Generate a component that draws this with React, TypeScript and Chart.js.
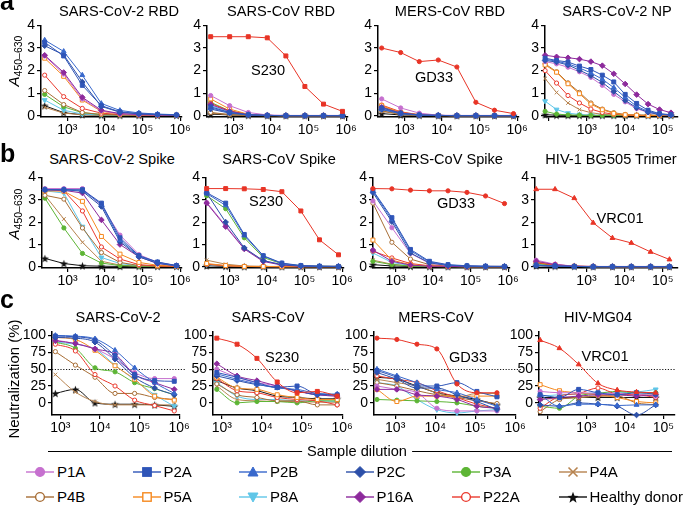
import React, { useEffect, useRef } from 'react';
import { Chart, registerables } from 'chart.js';
Chart.register(...registerables);

const FONT = '"Liberation Sans", Arial, Helvetica, sans-serif';

// ---------- series ----------
const SERIES = ['P1A', 'P2A', 'P2B', 'P2C', 'P3A', 'P4A', 'P4B', 'P5A', 'P8A', 'P16A', 'P22A', 'Healthy donor'];
const COLORS = ['#c670cf', '#2f55b8', '#3868cc', '#2c4fa8', '#5db535', '#b7834f', '#a76d35', '#f5891f', '#5fc6e8', '#8d2a9c', '#ea3a2e', '#111111'];
const MARKERS = ['circle', 'rect', 'triangle', 'rectRot', 'circle', 'crossRot', 'circle', 'rect', 'triangleDown', 'rectRot', 'circle', 'star'];
const OPEN = [false, false, false, false, false, false, true, true, false, false, true, false];
const MAB_COLOR = '#e83426';

// ---------- dilutions ----------
const DIL_ELISA = [250, 800, 2500, 8000, 25000, 80000, 250000, 800000];
const DIL_NP = [80, 160, 320, 640, 1280, 2560, 5120, 10240, 20480, 40960, 81920, 163840];
const DIL_TRIMER = [48, 150, 480, 1500, 4800, 15000, 48000, 150000];
const DIL_NEUT = [750, 2400, 7500, 24000, 75000, 240000, 750000];
const DIL_NEUT_MERS = [350, 1100, 3500, 11000, 35000, 110000, 350000];
const DIL_NEUT_HIV = [63, 200, 630, 2000, 6300, 20000, 63000];

// ---------- tick labels ----------
const ELISA_YTICKS = [0, 1, 2, 3, 4];
const NEUT_YTICKS = [0, 25, 50, 75, 100];
const XTICKS_FULL = [1e3, 1e4, 1e5, 1e6];
const XTICKS_SHORT = [1e2, 1e3, 1e4, 1e5];
const XLABELED = [1e3, 1e4, 1e5, 1e6];

// ---------- monoclonal controls ----------
const S230_RBD = [3.5, 3.5, 3.5, 3.45, 2.65, 1.3, 0.52, 0.2];
const GD33_RBD = [3.0, 2.8, 2.4, 2.47, 2.16, 0.6, 0.25, 0.1];
const S230_SPIKE = [3.5, 3.5, 3.49, 3.46, 3.36, 2.5, 1.21, 0.54];
const GD33_SPIKE = [3.5, 3.49, 3.43, 3.4, 3.4, 3.33, 3.17, 2.83];
const VRC01_TRIMER = [3.47, 3.47, 3.07, 1.97, 1.29, 1.07, 0.67, 0.33];
const S230_NEUT = [96, 87, 66, 31, 15, 17, 10];
const GD33_NEUT = [96, 94, 87, 80, 28, 15, 15];
const VRC01_NEUT = [93, 81, 57, 29, 19, 16, 15];

// ---------- panel a ----------
const A_SARS2_RBD = [
  [2.65, 1.85, 0.75, 0.22, 0.09, 0.05, 0.04, 0.03],
  [3.25, 2.65, 1.35, 0.45, 0.18, 0.1, 0.06, 0.04],
  [3.35, 2.85, 1.8, 0.55, 0.24, 0.13, 0.08, 0.05],
  [3.1, 2.7, 1.5, 0.42, 0.16, 0.09, 0.06, 0.04],
  [0.95, 0.4, 0.14, 0.06, 0.04, 0.03, 0.02, 0.02],
  [0.38, 0.12, 0.05, 0.03, 0.02, 0.02, 0.02, 0.02],
  [1.12, 0.5, 0.15, 0.06, 0.04, 0.03, 0.02, 0.02],
  [2.55, 1.75, 0.7, 0.2, 0.08, 0.05, 0.04, 0.03],
  [0.7, 0.25, 0.08, 0.04, 0.03, 0.02, 0.02, 0.02],
  [2.68, 1.92, 0.82, 0.25, 0.1, 0.06, 0.04, 0.03],
  [1.8, 0.85, 0.33, 0.12, 0.06, 0.04, 0.03, 0.02],
  [0.45, 0.14, 0.05, 0.03, 0.02, 0.02, 0.02, 0.02],
];
const A_SARS_RBD = [
  [0.9, 0.45, 0.15, 0.04, 0.02, 0.02, 0.02, 0.02],
  [0.4, 0.15, 0.05, 0.02, 0.01, 0.01, 0.01, 0.01],
  [0.35, 0.14, 0.05, 0.02, 0.01, 0.01, 0.01, 0.01],
  [0.3, 0.12, 0.04, 0.02, 0.01, 0.01, 0.01, 0.01],
  [0.6, 0.22, 0.06, 0.02, 0.01, 0.01, 0.01, 0.01],
  [0.12, 0.05, 0.02, 0.01, 0.01, 0.01, 0.01, 0.01],
  [0.15, 0.06, 0.02, 0.01, 0.01, 0.01, 0.01, 0.01],
  [0.75, 0.3, 0.07, 0.02, 0.01, 0.01, 0.01, 0.01],
  [0.45, 0.18, 0.05, 0.02, 0.01, 0.01, 0.01, 0.01],
  [0.5, 0.2, 0.05, 0.02, 0.01, 0.01, 0.01, 0.01],
  [0.55, 0.22, 0.06, 0.02, 0.01, 0.01, 0.01, 0.01],
  [0.08, 0.04, 0.02, 0.01, 0.01, 0.01, 0.01, 0.01],
];
const A_MERS_RBD = [
  [0.75, 0.35, 0.12, 0.03, 0.02, 0.02, 0.02, 0.02],
  [0.35, 0.12, 0.04, 0.02, 0.01, 0.01, 0.01, 0.01],
  [0.3, 0.1, 0.04, 0.02, 0.01, 0.01, 0.01, 0.01],
  [0.28, 0.1, 0.03, 0.02, 0.01, 0.01, 0.01, 0.01],
  [0.4, 0.15, 0.05, 0.02, 0.01, 0.01, 0.01, 0.01],
  [0.2, 0.06, 0.02, 0.01, 0.01, 0.01, 0.01, 0.01],
  [0.22, 0.08, 0.03, 0.01, 0.01, 0.01, 0.01, 0.01],
  [0.45, 0.15, 0.04, 0.02, 0.01, 0.01, 0.01, 0.01],
  [0.3, 0.1, 0.03, 0.02, 0.01, 0.01, 0.01, 0.01],
  [0.38, 0.13, 0.04, 0.02, 0.01, 0.01, 0.01, 0.01],
  [0.48, 0.18, 0.05, 0.02, 0.01, 0.01, 0.01, 0.01],
  [0.1, 0.04, 0.02, 0.01, 0.01, 0.01, 0.01, 0.01],
];
const A_SARS2_NP = [
  [2.4, 2.3, 2.15, 1.95, 1.7, 1.35, 0.95, 0.62, 0.32, 0.15, 0.07, 0.04],
  [2.55, 2.45, 2.38, 2.2, 2.05, 1.8, 1.5, 0.95, 0.55, 0.25, 0.1, 0.05],
  [2.5, 2.42, 2.3, 2.12, 1.9, 1.62, 1.25, 0.82, 0.42, 0.2, 0.08, 0.04],
  [2.45, 2.38, 2.25, 2.02, 1.78, 1.48, 1.08, 0.68, 0.36, 0.16, 0.06, 0.03],
  [0.2, 0.08, 0.04, 0.03, 0.02, 0.02, 0.02, 0.02, 0.02, 0.02, 0.02, 0.02],
  [1.65, 1.03, 0.57, 0.28, 0.14, 0.07, 0.04, 0.03, 0.02, 0.02, 0.02, 0.02],
  [2.3, 1.95, 1.46, 1.04, 0.57, 0.3, 0.14, 0.06, 0.03, 0.02, 0.02, 0.02],
  [2.25, 1.93, 1.42, 0.98, 0.52, 0.27, 0.11, 0.05, 0.03, 0.02, 0.02, 0.02],
  [0.65, 0.28, 0.12, 0.06, 0.03, 0.02, 0.02, 0.02, 0.02, 0.02, 0.02, 0.02],
  [2.68, 2.61, 2.57, 2.51, 2.4, 2.22, 1.86, 1.41, 0.94, 0.52, 0.28, 0.14],
  [2.0, 1.45, 0.9, 0.57, 0.3, 0.15, 0.07, 0.03, 0.02, 0.02, 0.02, 0.02],
  [0.05, 0.03, 0.02, 0.02, 0.02, 0.02, 0.02, 0.02, 0.02, 0.02, 0.02, 0.02],
];

// ---------- panel b ----------
const B_SARS2_SPIKE = [
  [3.5, 3.5, 3.5, 2.75, 1.42, 0.55, 0.2, 0.06],
  [3.45, 3.45, 3.45, 2.85, 1.3, 0.5, 0.22, 0.06],
  [3.45, 3.45, 3.42, 2.8, 1.2, 0.48, 0.2, 0.05],
  [3.45, 3.45, 3.38, 2.7, 1.12, 0.45, 0.16, 0.05],
  [3.07, 1.74, 0.6, 0.17, 0.06, 0.03, 0.02, 0.02],
  [3.2, 2.14, 1.1, 0.25, 0.08, 0.03, 0.02, 0.02],
  [3.2, 3.03, 1.74, 0.64, 0.2, 0.06, 0.03, 0.02],
  [3.4, 3.38, 2.93, 1.36, 0.57, 0.2, 0.07, 0.03],
  [3.4, 3.3, 1.8, 0.42, 0.15, 0.05, 0.03, 0.02],
  [3.45, 3.42, 3.3, 2.1, 1.0, 0.45, 0.15, 0.05],
  [3.45, 3.4, 2.5, 0.89, 0.35, 0.1, 0.04, 0.02],
  [0.38, 0.15, 0.05, 0.03, 0.02, 0.02, 0.02, 0.02],
];
const B_SARS_SPIKE = [
  [2.88, 1.85, 0.82, 0.28, 0.1, 0.04, 0.02, 0.02],
  [3.32, 2.85, 1.45, 0.5, 0.17, 0.06, 0.03, 0.02],
  [3.28, 2.75, 1.4, 0.48, 0.15, 0.05, 0.03, 0.02],
  [3.3, 2.0, 0.85, 0.28, 0.1, 0.04, 0.02, 0.02],
  [3.18, 2.6, 1.3, 0.42, 0.14, 0.05, 0.03, 0.02],
  [0.3, 0.12, 0.04, 0.02, 0.02, 0.02, 0.02, 0.02],
  [0.12, 0.05, 0.02, 0.02, 0.01, 0.01, 0.01, 0.01],
  [0.15, 0.06, 0.02, 0.02, 0.01, 0.01, 0.01, 0.01],
  [0.1, 0.04, 0.02, 0.01, 0.01, 0.01, 0.01, 0.01],
  [2.85, 1.8, 0.8, 0.24, 0.08, 0.03, 0.02, 0.02],
  [0.12, 0.05, 0.02, 0.01, 0.01, 0.01, 0.01, 0.01],
  [0.05, 0.02, 0.01, 0.01, 0.01, 0.01, 0.01, 0.01],
];
const B_MERS_SPIKE = [
  [2.95, 1.75, 0.6, 0.16, 0.06, 0.03, 0.02, 0.02],
  [3.42, 2.2, 0.78, 0.25, 0.1, 0.05, 0.03, 0.02],
  [3.38, 2.12, 0.72, 0.22, 0.08, 0.04, 0.02, 0.02],
  [3.32, 2.02, 0.62, 0.18, 0.07, 0.03, 0.02, 0.02],
  [0.25, 0.1, 0.04, 0.02, 0.01, 0.01, 0.01, 0.01],
  [0.3, 0.12, 0.04, 0.02, 0.01, 0.01, 0.01, 0.01],
  [2.85, 1.1, 0.35, 0.1, 0.04, 0.02, 0.02, 0.02],
  [1.2, 0.3, 0.1, 0.04, 0.02, 0.01, 0.01, 0.01],
  [0.62, 0.2, 0.06, 0.03, 0.02, 0.01, 0.01, 0.01],
  [0.75, 0.25, 0.08, 0.03, 0.02, 0.01, 0.01, 0.01],
  [0.7, 0.4, 0.15, 0.05, 0.02, 0.01, 0.01, 0.01],
  [0.1, 0.04, 0.02, 0.01, 0.01, 0.01, 0.01, 0.01],
];
const B_HIV_TRIMER = [
  [0.3, 0.12, 0.03, 0.02, 0.02, 0.02, 0.02, 0.02],
  [0.08, 0.04, 0.02, 0.01, 0.01, 0.01, 0.01, 0.01],
  [0.07, 0.04, 0.02, 0.01, 0.01, 0.01, 0.01, 0.01],
  [0.06, 0.03, 0.02, 0.01, 0.01, 0.01, 0.01, 0.01],
  [0.15, 0.07, 0.02, 0.01, 0.01, 0.01, 0.01, 0.01],
  [0.2, 0.08, 0.03, 0.01, 0.01, 0.01, 0.01, 0.01],
  [0.18, 0.08, 0.03, 0.01, 0.01, 0.01, 0.01, 0.01],
  [0.22, 0.1, 0.03, 0.02, 0.01, 0.01, 0.01, 0.01],
  [0.12, 0.05, 0.02, 0.01, 0.01, 0.01, 0.01, 0.01],
  [0.25, 0.1, 0.03, 0.02, 0.01, 0.01, 0.01, 0.01],
  [0.2, 0.08, 0.03, 0.01, 0.01, 0.01, 0.01, 0.01],
  [0.05, 0.03, 0.02, 0.01, 0.01, 0.01, 0.01, 0.01],
];

// ---------- panel c ----------
const C_SARS2 = [
  [93, 88, 80, 65, 45, 36, 36],
  [99, 98, 93, 70, 42, 33, 32],
  [100, 99, 95, 78, 52, 30, 14],
  [97, 96, 90, 65, 38, 22, 12],
  [90, 81, 52, 46, 30, 21, 12],
  [42, 16, 2, -3, -3, -3, -3],
  [76, 56, 38, 14, 14, 8, 5],
  [97, 94, 78, 55, 35, 10, 4],
  [90, 87, 80, 56, 34, 12, -5],
  [92, 88, 80, 72, 42, 30, 20],
  [87, 77, 42, 25, 4, -4, -12],
  [14, 20, 0, -2, -2, -3, -5],
];
const C_SARS = [
  [50, 38, 30, 25, 17, 12, 10],
  [45, 38, 30, 23, 25, 13, 12],
  [43, 35, 28, 22, 20, 14, 13],
  [40, 33, 27, 23, 18, 12, 12],
  [20, 0, 2, 2, 0, 3, 3],
  [25, 5, 3, 2, 2, 1, 1],
  [28, 12, 8, 3, 3, -3, -3],
  [38, 22, 20, 12, 8, 5, 5],
  [30, 10, 5, 5, 3, 3, 2],
  [58, 40, 33, 25, 18, 12, 10],
  [36, 18, 15, 8, 5, 3, -3],
  [33, 22, 18, 10, 8, 6, 6],
];
const C_MERS = [
  [25, 20, 15, -8, -12, -12, -12],
  [48, 38, 25, 25, 30, 17, 9],
  [50, 40, 30, 20, 15, 5, -5],
  [45, 35, 22, 22, 12, 2, -10],
  [5, 4, 3, 2, 0, -5, -8],
  [35, 30, 25, 15, 8, 14, 14],
  [30, 25, 18, 12, 8, 3, -1],
  [20, 2, 10, 10, 10, 10, 10],
  [30, 25, 5, -10, -15, -12, -10],
  [20, 20, 12, 10, 5, -5, -8],
  [40, 35, 30, 18, 8, -2, -8],
  [38, 35, 25, 15, 10, 5, -3],
];
const C_HIV = [
  [17, 15, 15, 14, 14, 13, 10],
  [12, 8, 20, 15, 12, 15, 13],
  [12, -5, -2, -2, -4, -3, -3],
  [-3, -5, 0, -2, -5, -18, -3],
  [-5, -8, 10, 14, 17, 15, 15],
  [6, 6, 8, 10, 12, 12, 14],
  [-13, 5, 8, 10, 10, 0, -3],
  [27, 18, 15, 12, 8, 2, 0],
  [10, 12, 13, 15, 15, 16, 20],
  [5, 8, 10, 12, 12, 10, 12],
  [-8, 10, 14, 22, 13, 12, 8],
  [8, 8, 8, 8, 8, 8, 8],
];

// ---------- layout ----------
type Spec = {
  title: string; tx: number; ty: number;
  left: number; top: number; bottom: number;
  xmin: number; xmax: number; dec: number;
  ymin: number; ymax: number; yticks: number[]; xticks: number[];
  dil: number[]; data: number[][];
  mab?: number[]; mabStyle?: string; mabName?: string; lx?: number; ly?: number;
  smooth?: boolean; ref50?: boolean;
};

const ROW_A = { top: 21, bottom: 117, ymin: -0.05, ymax: 4, yticks: ELISA_YTICKS };
const ROW_B = { top: 173, bottom: 268, ymin: -0.05, ymax: 4, yticks: ELISA_YTICKS };
const ROW_C = { top: 327, bottom: 415, ymin: -18, ymax: 106, yticks: NEUT_YTICKS, smooth: true, ref50: true };

const PANELS: Spec[] = [
  { ...ROW_A, title: 'SARS-CoV-2 RBD', tx: 119, ty: 11, left: 41, xmin: 2.3, xmax: 6.05, dec: 37.5, xticks: XTICKS_FULL, dil: DIL_ELISA, data: A_SARS2_RBD },
  { ...ROW_A, title: 'SARS-CoV RBD', tx: 281, ty: 11, left: 207, xmin: 2.3, xmax: 6.05, dec: 37.5, xticks: XTICKS_FULL, dil: DIL_ELISA, data: A_SARS_RBD, mab: S230_RBD, mabStyle: 'rect', mabName: 'S230', lx: 268, ly: 70 },
  { ...ROW_A, title: 'MERS-CoV RBD', tx: 450, ty: 11, left: 378, xmin: 2.3, xmax: 6.05, dec: 37.5, xticks: XTICKS_FULL, dil: DIL_ELISA, data: A_MERS_RBD, mab: GD33_RBD, mabStyle: 'circle', mabName: 'GD33', lx: 434, ly: 77 },
  { ...ROW_A, title: 'SARS-CoV-2 NP', tx: 617, ty: 11, left: 545, xmin: 1.9, xmax: 5.4, dec: 38, xticks: XTICKS_SHORT, dil: DIL_NP, data: A_SARS2_NP },
  { ...ROW_B, title: 'SARS-CoV-2 Spike', tx: 112, ty: 159, left: 42, xmin: 2.32, xmax: 6.05, dec: 37.5, xticks: XTICKS_FULL, dil: DIL_ELISA, data: B_SARS2_SPIKE },
  { ...ROW_B, title: 'SARS-CoV Spike', tx: 279, ty: 159, left: 206, xmin: 2.38, xmax: 6.05, dec: 37.5, xticks: XTICKS_FULL, dil: DIL_ELISA, data: B_SARS_SPIKE, mab: S230_SPIKE, mabStyle: 'rect', mabName: 'S230', lx: 266, ly: 201 },
  { ...ROW_B, title: 'MERS-CoV Spike', tx: 445, ty: 159, left: 373, xmin: 2.4, xmax: 6.05, dec: 37.5, xticks: XTICKS_FULL, dil: DIL_ELISA, data: B_MERS_SPIKE, mab: GD33_SPIKE, mabStyle: 'circle', mabName: 'GD33', lx: 456, ly: 203 },
  { ...ROW_B, title: 'HIV-1 BG505 Trimer', tx: 611, ty: 159, left: 535, xmin: 1.65, xmax: 5.4, dec: 38, xticks: XTICKS_SHORT, dil: DIL_TRIMER, data: B_HIV_TRIMER, mab: VRC01_TRIMER, mabStyle: 'triangle', mabName: 'VRC01', lx: 620, ly: 218 },
  { ...ROW_C, title: 'SARS-CoV-2', tx: 118, ty: 317, left: 52, xmin: 2.79, xmax: 6.02, dec: 39.5, xticks: XTICKS_FULL, dil: DIL_NEUT, data: C_SARS2 },
  { ...ROW_C, title: 'SARS-CoV', tx: 268, ty: 317, left: 213, xmin: 2.78, xmax: 6.02, dec: 40, xticks: XTICKS_FULL, dil: DIL_NEUT, data: C_SARS, mab: S230_NEUT, mabStyle: 'rect', mabName: 'S230', lx: 282, ly: 357 },
  { ...ROW_C, title: 'MERS-CoV', tx: 436, ty: 317, left: 374, xmin: 2.47, xmax: 6.02, dec: 40, xticks: XTICKS_FULL, dil: DIL_NEUT_MERS, data: C_MERS, mab: GD33_NEUT, mabStyle: 'circle', mabName: 'GD33', lx: 468, ly: 357 },
  { ...ROW_C, title: 'HIV-MG04', tx: 598, ty: 317, left: 539, xmin: 1.77, xmax: 5.3, dec: 38.5, xticks: XTICKS_SHORT, dil: DIL_NEUT_HIV, data: C_HIV, mab: VRC01_NEUT, mabStyle: 'triangle', mabName: 'VRC01', lx: 605, ly: 356 },
];

const YW = 40, XH = 26, PT = 6, PR = 16;
const RADIUS: Record<string, number> = { circle: 2.1, rect: 2.8, triangle: 2.8, triangleDown: 2.8, rectRot: 2.8, crossRot: 2.6, star: 3 };
const SUP: Record<string, string> = { '2': '²', '3': '³', '4': '⁴', '5': '⁵', '6': '⁶' };

let starCache: HTMLCanvasElement | null = null;
function starImage(): HTMLCanvasElement {
  if (starCache) return starCache;
  const s = 9, r = 4.2;
  const c = document.createElement('canvas');
  c.width = s; c.height = s;
  const g = c.getContext('2d')!;
  g.fillStyle = '#111';
  g.beginPath();
  for (let k = 0; k < 10; k++) {
    const a = -Math.PI / 2 + (k * Math.PI) / 5;
    const rr = k % 2 === 0 ? r : r * 0.42;
    g.lineTo(s / 2 + rr * Math.cos(a), s / 2 + 0.5 + rr * Math.sin(a));
  }
  g.closePath();
  g.fill();
  starCache = c;
  return c;
}

function makeDataset(label: string, color: string, marker: string, open: boolean, xs: number[], ys: number[], smooth: boolean) {
  return {
    label,
    data: xs.map((x, k) => ({ x, y: ys[k] })),
    showLine: true,
    borderColor: color,
    backgroundColor: color,
    borderWidth: 1,
    pointStyle: marker === 'star' ? starImage() : marker === 'triangleDown' ? 'triangle' : marker,
    rotation: marker === 'triangleDown' ? 180 : 0,
    pointRadius: RADIUS[marker] ?? 2.1,
    pointBackgroundColor: open ? '#ffffff' : color,
    pointBorderColor: color,
    pointBorderWidth: 1,
    cubicInterpolationMode: smooth ? 'monotone' : 'default',
    tension: 0,
    clip: false as any,
  };
}

const ref50Plugin = {
  id: 'ref50',
  beforeDatasetsDraw(chart: any, _a: any, opts: any) {
    if (!opts || !opts.on) return;
    const { ctx, chartArea } = chart;
    const y = Math.round(chart.scales.y.getPixelForValue(50)) + 0.5;
    ctx.save();
    ctx.strokeStyle = '#000';
    ctx.lineWidth = 0.9;
    ctx.setLineDash([1.2, 1.6]);
    ctx.beginPath();
    ctx.moveTo(chartArea.left, y);
    ctx.lineTo(chartArea.right + opts.ext, y);
    ctx.stroke();
    ctx.restore();
  },
};

function Panel({ spec, last }: { spec: Spec; last: boolean }) {
  const ref = useRef<HTMLCanvasElement>(null);
  const plotW = Math.round((spec.xmax - spec.xmin) * spec.dec);
  const plotH = spec.bottom - spec.top;
  const width = YW + plotW + PR;
  const height = PT + plotH + XH;
  const cLeft = spec.left - YW;
  const cTop = spec.top - PT;

  useEffect(() => {
    const smooth = !!spec.smooth;
    const datasets: any[] = [];
    if (spec.mab) datasets.push(makeDataset(spec.mabName || '', MAB_COLOR, spec.mabStyle || 'rect', false, spec.dil, spec.mab, smooth));
    const order = [1, 2, 3, 9, 0, 7, 10, 6, 4, 8, 5, 11];
    order.forEach((i) => {
      datasets.push(makeDataset(SERIES[i], COLORS[i], MARKERS[i], OPEN[i], spec.dil, spec.data[i], smooth));
    });
    const tickFont = { family: FONT, size: 14 };
    const axisCommon = {
      grid: { display: true, drawOnChartArea: false, drawTicks: true, tickLength: 4, color: '#000', lineWidth: 1.2 },
      border: { display: true, color: '#000', width: 1.5 },
    };
    const chart = new Chart(ref.current as HTMLCanvasElement, {
      type: 'scatter',
      data: { datasets },
      plugins: [ref50Plugin],
      options: {
        responsive: false,
        animation: false,
        devicePixelRatio: 1,
        layout: { padding: { top: PT, right: PR, left: 0, bottom: 0 }, autoPadding: false },
        plugins: {
          legend: { display: false },
          tooltip: { enabled: false },
          ref50: { on: !!spec.ref50, ext: last ? 0 : 6 },
        } as any,
        scales: {
          x: {
            type: 'logarithmic',
            min: Math.pow(10, spec.xmin),
            max: Math.pow(10, spec.xmax),
            afterBuildTicks: (s: any) => { s.ticks = spec.xticks.map((v) => ({ value: v })); },
            afterFit: (s: any) => { s.height = XH; },
            ticks: {
              autoSkip: false, maxRotation: 0, minRotation: 0, padding: 1, color: '#000', font: tickFont,
              callback: (v: any) => {
                const val = Number(v);
                if (!XLABELED.includes(val)) return '';
                const e = String(Math.round(Math.log10(val)));
                return '10' + (SUP[e] || e);
              },
            },
            ...axisCommon,
          },
          y: {
            type: 'linear',
            min: spec.ymin,
            max: spec.ymax,
            afterBuildTicks: (s: any) => { s.ticks = spec.yticks.map((v) => ({ value: v })); },
            afterFit: (s: any) => { s.width = YW; },
            ticks: { padding: 2, color: '#000', font: tickFont, callback: (v: any) => String(v) },
            ...axisCommon,
          },
        },
      } as any,
    });
    return () => chart.destroy();
  }, []);

  return (
    <canvas
      ref={ref}
      width={width}
      height={height}
      style={{ position: 'absolute', left: cLeft, top: cTop, width, height }}
    />
  );
}

function LegendMarker({ i }: { i: number }) {
  const c = COLORS[i];
  const m = MARKERS[i];
  const fill = OPEN[i] ? '#fff' : c;
  const cx = 14, cy = 8;
  let shape: any = null;
  if (m === 'circle') shape = <circle cx={cx} cy={cy} r={4.4} fill={fill} stroke={c} strokeWidth={1.4} />;
  else if (m === 'rect') shape = <rect x={cx - 4.2} y={cy - 4.2} width={8.4} height={8.4} fill={fill} stroke={c} strokeWidth={1.4} />;
  else if (m === 'triangle') shape = <polygon points={`${cx},${cy - 5} ${cx + 5},${cy + 4} ${cx - 5},${cy + 4}`} fill={fill} stroke={c} strokeWidth={1} />;
  else if (m === 'triangleDown') shape = <polygon points={`${cx - 5},${cy - 4} ${cx + 5},${cy - 4} ${cx},${cy + 5}`} fill={fill} stroke={c} strokeWidth={1} />;
  else if (m === 'rectRot') shape = <polygon points={`${cx},${cy - 5.5} ${cx + 5.5},${cy} ${cx},${cy + 5.5} ${cx - 5.5},${cy}`} fill={fill} stroke={c} strokeWidth={1} />;
  else if (m === 'crossRot') shape = (
    <g stroke={c} strokeWidth={1.6}>
      <line x1={cx - 4.5} y1={cy - 4.5} x2={cx + 4.5} y2={cy + 4.5} />
      <line x1={cx + 4.5} y1={cy - 4.5} x2={cx - 4.5} y2={cy + 4.5} />
    </g>
  );
  else if (m === 'star') {
    const pts: string[] = [];
    for (let k = 0; k < 10; k++) {
      const a = -Math.PI / 2 + (k * Math.PI) / 5;
      const rr = k % 2 === 0 ? 6 : 2.5;
      pts.push(`${(cx + rr * Math.cos(a)).toFixed(2)},${(cy + 0.8 + rr * Math.sin(a)).toFixed(2)}`);
    }
    shape = <polygon points={pts.join(' ')} fill={c} />;
  }
  return (
    <svg width={28} height={16} style={{ position: 'absolute', left: -14, top: -8, overflow: 'visible' }}>
      <line x1={0} y1={cy} x2={28} y2={cy} stroke={c} strokeWidth={1.4} />
      {shape}
    </svg>
  );
}

const abs = (x: number, y: number): React.CSSProperties => ({ position: 'absolute', left: x, top: y });
const centered = (x: number, y: number, size: number, extra: React.CSSProperties = {}): React.CSSProperties => ({
  position: 'absolute', left: x, top: y, transform: 'translate(-50%, -50%)', whiteSpace: 'nowrap',
  fontSize: size, lineHeight: 1, fontFamily: FONT, color: '#000', ...extra,
});

export default function App() {
  return (
    <div style={{ position: 'fixed', left: 0, top: 0, width: 685, height: 510, background: '#fff', overflow: 'hidden', fontFamily: FONT }}>
      {PANELS.map((p, i) => (
        <Panel key={i} spec={p} last={i % 4 === 3} />
      ))}
      {PANELS.map((p, i) => (
        <div key={'t' + i} style={centered(p.tx, p.ty, 14.6)}>{p.title}</div>
      ))}
      {PANELS.filter((p) => p.mabName).map((p, i) => (
        <div key={'m' + i} style={centered(p.lx as number, p.ly as number, 14.6)}>{p.mabName}</div>
      ))}
      <div style={{ ...abs(0, -11), fontSize: 25, fontWeight: 'bold', lineHeight: '25px' }}>a</div>
      <div style={{ ...abs(0, 140.5), fontSize: 25, fontWeight: 'bold', lineHeight: '25px' }}>b</div>
      <div style={{ ...abs(0, 287), fontSize: 25, fontWeight: 'bold', lineHeight: '25px' }}>c</div>
      <div style={centered(15, 61, 15, { transform: 'translate(-50%, -50%) rotate(-90deg)' })}>
        <i>A</i><sub style={{ fontSize: 10.5, verticalAlign: '-3px' }}>450–630</sub>
      </div>
      <div style={centered(15, 214, 15, { transform: 'translate(-50%, -50%) rotate(-90deg)' })}>
        <i>A</i><sub style={{ fontSize: 10.5, verticalAlign: '-3px' }}>450–630</sub>
      </div>
      <div style={centered(13, 379, 15, { transform: 'translate(-50%, -50%) rotate(-90deg)' })}>Neutralization (%)</div>
      <div style={{ position: 'absolute', left: 48, top: 451, width: 624, height: 0, borderTop: '1px solid #000' }} />
      <div style={centered(357, 451, 14.6, { background: '#fff', padding: '0 5px' })}>Sample dilution</div>
      {SERIES.map((name, i) => {
        const col = i % 6, row = Math.floor(i / 6);
        const x = 40 + col * 106.5;
        const y = row === 0 ? 472 : 497;
        return (
          <div key={'l' + i} style={{ position: 'absolute', left: x, top: y, width: 0, height: 0 }}>
            <LegendMarker i={i} />
            <div style={{ position: 'absolute', left: 17, top: -8, fontSize: 15, lineHeight: '16px', whiteSpace: 'nowrap', fontFamily: FONT }}>{name}</div>
          </div>
        );
      })}
    </div>
  );
}
